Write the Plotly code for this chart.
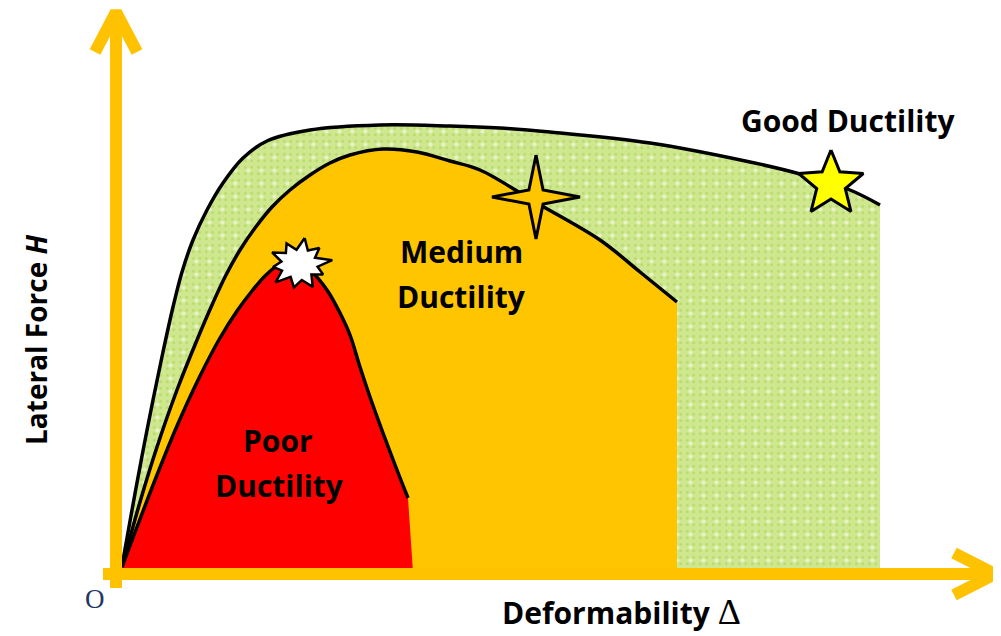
import math
import plotly.graph_objects as go

# ---- curve data (x = deformability, y = lateral force, in picture units) ----
good_x = [122, 132, 142, 153, 163, 173, 182, 193, 207, 223, 243, 267, 310, 380, 450, 500, 550, 650, 750, 800, 850, 880]
good_y = [566, 510, 456, 400, 352, 307, 272, 240, 210, 183, 158, 141, 130, 125, 126, 128, 132, 143, 162, 174, 190, 205]
good_end = 880

med_x = [122, 140, 157, 177, 197, 212, 226, 240, 255, 272, 290, 310, 330, 350, 383, 417, 450, 480, 535, 600, 640, 677]
med_y = [567, 502, 447, 390, 340, 305, 275, 250, 228, 207, 190, 175, 163, 155, 149, 152, 161, 170, 202, 240, 272, 302]
med_end = 677

poor_x = [122, 137, 157, 177, 200, 220, 237, 252, 266, 280, 295, 310, 327, 340, 350, 360, 370, 383, 397, 408]
poor_y = [567, 527, 475, 426, 376, 338, 311, 291, 275, 264, 261, 270, 290, 313, 335, 367, 397, 433, 470, 498]
poor_end = 413

base_y = 572

# ---- axes ----
v_axis_x = [116, 116]
v_axis_y = [588, 16]
v_head_x = [95, 116, 137]
v_head_y = [52, 12, 52]
h_axis_x = [103, 990]
h_axis_y = [574, 574]
h_head_x = [954, 995, 954]
h_head_y = [553, 574, 595]

# ---- markers (stars) ----
burst_center = (299, 264)
burst_radii = [31, 18, 27, 17, 32, 18, 26, 17, 30, 19, 28, 17, 31, 18, 25, 17, 29, 18, 27, 17]
star4_center = (536, 197)
star5_center = (831, 184)

ORANGE = "#FFC600"
AXIS = "#FFC200"
RED = "#FF0000"
GREEN_BG = "#CFE78F"
GREEN_DOT = "#9ACF45"

# the page body has an 8px margin: shift the data window so picture units match page pixels
OFF = 8

fig = go.Figure()

# green region
gx = good_x + [good_end, good_x[0]]
gy = good_y + [base_y, base_y]
fig.add_trace(go.Scatter(x=gx, y=gy, mode="lines", fill="toself", line=dict(width=0),
                         fillcolor=GREEN_BG,
                         fillpattern=dict(shape=".", bgcolor=GREEN_BG, fgcolor=GREEN_DOT, size=6.5, solidity=0.15),
                         hoverinfo="skip"))
fig.add_trace(go.Scatter(x=gx, y=gy, mode="lines", fill="toself", line=dict(width=0),
                         fillcolor="rgba(0,0,0,0)",
                         fillpattern=dict(shape=".", bgcolor="rgba(0,0,0,0)", fgcolor="white", size=13, solidity=0.08),
                         hoverinfo="skip"))
# medium region
fig.add_trace(go.Scatter(x=med_x + [med_end, med_x[0]], y=med_y + [base_y, base_y], mode="lines",
                         fill="toself", fillcolor=ORANGE, line=dict(width=0), hoverinfo="skip"))
# poor region
fig.add_trace(go.Scatter(x=poor_x + [poor_end, poor_x[0]], y=poor_y + [base_y, base_y], mode="lines",
                         fill="toself", fillcolor=RED, line=dict(width=0), hoverinfo="skip"))

# outlines
for xs, ys in [(good_x, good_y), (med_x, med_y), (poor_x, poor_y)]:
    fig.add_trace(go.Scatter(x=xs, y=ys, mode="lines", line=dict(color="black", width=3.5, shape="spline", smoothing=1),
                             hoverinfo="skip"))

# axes
for xs, ys in [(v_axis_x, v_axis_y), (v_head_x, v_head_y), (h_axis_x, h_axis_y), (h_head_x, h_head_y)]:
    fig.add_trace(go.Scatter(x=xs, y=ys, mode="lines", line=dict(color=AXIS, width=12), hoverinfo="skip"))


def star(cx, cy, radii, sx=1.0, sy=1.0, rot=-90):
    n = len(radii)
    xs, ys = [], []
    for i, r in enumerate(radii + radii[:1]):
        a = math.radians(rot + 360 * i / n)
        xs.append(cx + sx * r * math.cos(a))
        ys.append(cy + sy * r * math.sin(a))
    return xs, ys


bx, by = star(*burst_center, burst_radii, sx=1.05, sy=0.85, rot=-80)
fig.add_trace(go.Scatter(x=bx, y=by, mode="lines", fill="toself", fillcolor="white",
                         line=dict(color="black", width=2.5), hoverinfo="skip"))
s4x, s4y = star(*star4_center, [42, 10, 44, 10, 42, 10, 44, 10])
fig.add_trace(go.Scatter(x=s4x, y=s4y, mode="lines", fill="toself", fillcolor=ORANGE,
                         line=dict(color="black", width=3), hoverinfo="skip"))
s5x, s5y = star(*star5_center, [34, 15] * 5)
fig.add_trace(go.Scatter(x=s5x, y=s5y, mode="lines", fill="toself", fillcolor="#FFFF00",
                         line=dict(color="black", width=3), hoverinfo="skip"))

FONT = "Open Sans"
ann = []
def label(text, x, y, size=30, angle=0, color="black", family=FONT):
    ann.append(dict(text=text, x=x, y=y, xref="x", yref="y", showarrow=False, textangle=angle,
                    font=dict(family=family, size=size, color=color), xanchor="center", yanchor="middle"))

label("<b>Good Ductility</b>", 848, 120)
label("<b>Medium</b>", 461, 251)
label("<b>Ductility</b>", 461, 296)
label("<b>Poor</b>", 278, 440)
label("<b>Ductility</b>", 279, 485)
label("<b>Lateral Force <i>H</i></b>", 36, 340, size=28, angle=-90)
label("<b>Deformability</b> <span style='font-family:Liberation Serif;font-size:36px'>Δ</span>", 621, 612)
label("O", 95, 599, size=27, color="#1F3864", family="Liberation Serif")

fig.update_layout(
    width=1001, height=636, margin=dict(l=0, r=0, t=0, b=0),
    paper_bgcolor="white", plot_bgcolor="white", showlegend=False,
    xaxis=dict(range=[OFF, 1001 + OFF], visible=False, fixedrange=True),
    yaxis=dict(range=[636 + OFF, OFF], visible=False, fixedrange=True),
    annotations=ann,
)
fig.write_html("out.html")
